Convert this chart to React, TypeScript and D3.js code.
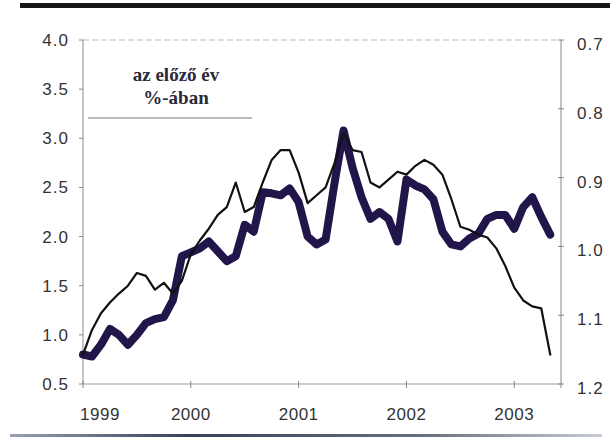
import { line, scaleLinear, curveLinear } from 'd3'

// monthly observations, Jan 1999 .. May 2003
const thinSeries = [
  0.8, 1.05, 1.22, 1.33, 1.42, 1.5, 1.63, 1.6, 1.46, 1.53, 1.42, 1.55,
  1.82, 1.96, 2.08, 2.22, 2.3, 2.55, 2.25, 2.3, 2.55, 2.78, 2.88, 2.88,
  2.65, 2.34, 2.42, 2.5, 2.75, 3.05, 2.88, 2.86, 2.55, 2.5, 2.58, 2.66,
  2.63, 2.72, 2.78, 2.73, 2.63, 2.38, 2.1, 2.07, 2.02, 1.99, 1.88, 1.7,
  1.48, 1.35, 1.29, 1.27, 0.8,
]
const thickSeries = [
  0.8, 0.78, 0.9, 1.06, 1.0, 0.9, 1.0, 1.12, 1.16, 1.18, 1.35, 1.8,
  1.84, 1.88, 1.95, 1.85, 1.75, 1.8, 2.12, 2.05, 2.45, 2.44, 2.42, 2.49,
  2.35, 2.0, 1.92, 1.97, 2.55, 3.08, 2.7, 2.4, 2.18, 2.25, 2.18, 1.95,
  2.58, 2.52, 2.48, 2.38, 2.05, 1.92, 1.9, 1.98, 2.03, 2.18, 2.22, 2.22,
  2.08, 2.3, 2.4, 2.2, 2.02,
]
const years = ['1999', '2000', '2001', '2002', '2003']
const leftTicks = [0.5, 1.0, 1.5, 2.0, 2.5, 3.0, 3.5, 4.0]
const rightTicks = [0.7, 0.8, 0.9, 1.0, 1.1, 1.2]
const noteLines = ['az előző év', '%-ában']

const W = 610
const H = 439
const left = 83
const right = 561
const top = 40
const bottom = 384

export default function App() {
  const x = scaleLinear().domain([0, 53.2]).range([left, right])
  const y = scaleLinear().domain([0.5, 4.0]).range([bottom, top])
  const yR = scaleLinear().domain([1.2, 0.7]).range([bottom, top])

  const path = line<number>()
    .x((_, i) => x(i))
    .y((d) => y(d))
    .curve(curveLinear)

  const font = '"Liberation Sans", Arial, sans-serif'

  return (
    <svg
      width={W}
      height={H}
      style={{ position: 'absolute', left: 0, top: 0, background: '#fff' }}
    >
      <defs>
        <linearGradient id="bottomRule" x1="0" x2="1" y1="0" y2="0">
          <stop offset="0%" stopColor="#9aa0b0" />
          <stop offset="30%" stopColor="#3a3f5a" />
          <stop offset="70%" stopColor="#6a6f80" />
          <stop offset="100%" stopColor="#c8ccd4" />
        </linearGradient>
      </defs>

      {/* page rules */}
      <rect x={20} y={3} width={590} height={5} fill="#161616" />
      <rect x={10} y={434} width={592} height={3} fill="url(#bottomRule)" />

      {/* frame */}
      <line x1={left} x2={right} y1={top} y2={top} stroke="#bbb" strokeDasharray="6 3" />
      <line x1={left} x2={left} y1={top} y2={bottom} stroke="#888" />
      <line x1={right} x2={right} y1={top} y2={bottom + 4} stroke="#888" />
      <line x1={left} x2={right} y1={bottom} y2={bottom} stroke="#999" />

      {/* left axis */}
      {leftTicks.map((t) => (
        <g key={t}>
          <line x1={left - 4} x2={left} y1={y(t)} y2={y(t)} stroke="#888" />
          <text
            x={69}
            y={y(t)}
            dy="0.35em"
            textAnchor="end"
            fontFamily={font}
            fontSize={17}
            letterSpacing={1}
            fill="#333"
          >
            {t.toFixed(1)}
          </text>
        </g>
      ))}

      {/* right axis */}
      {rightTicks.map((t) => (
        <g key={t}>
          <line x1={right - 3} x2={right + 3} y1={yR(t)} y2={yR(t)} stroke="#888" />
          <text
            x={577}
            y={yR(t) + 4}
            dy="0.35em"
            fontFamily={font}
            fontSize={17}
            letterSpacing={1}
            fill="#333"
          >
            {t.toFixed(1)}
          </text>
        </g>
      ))}

      {/* x axis */}
      {years.map((label, i) => {
        const xp = x(i * 12)
        return (
          <g key={label}>
            <line x1={xp} x2={xp} y1={bottom - 3} y2={bottom + 4} stroke="#888" />
            <text
              x={Math.max(xp, 100)}
              y={420}
              textAnchor="middle"
              fontFamily={font}
              fontSize={17}
              letterSpacing={0.5}
              fill="#333"
            >
              {label}
            </text>
          </g>
        )
      })}

      {/* note */}
      {noteLines.map((t, i) => (
        <text
          key={t}
          x={176}
          y={81 + i * 23}
          textAnchor="middle"
          fontFamily='"Liberation Serif", "Times New Roman", serif'
          fontSize={19}
          fontWeight={600}
          fill="#2a2a3a"
        >
          {t}
        </text>
      ))}
      <line x1={88} x2={252} y1={118} y2={118} stroke="#777" strokeWidth={1.2} />

      {/* series */}
      <path
        d={path(thickSeries) ?? ''}
        fill="none"
        stroke="#21154a"
        strokeWidth={8}
        strokeLinejoin="round"
        strokeLinecap="round"
      />
      <path
        d={path(thinSeries) ?? ''}
        fill="none"
        stroke="#111"
        strokeWidth={2.2}
        strokeLinejoin="round"
        strokeLinecap="round"
      />
    </svg>
  )
}
